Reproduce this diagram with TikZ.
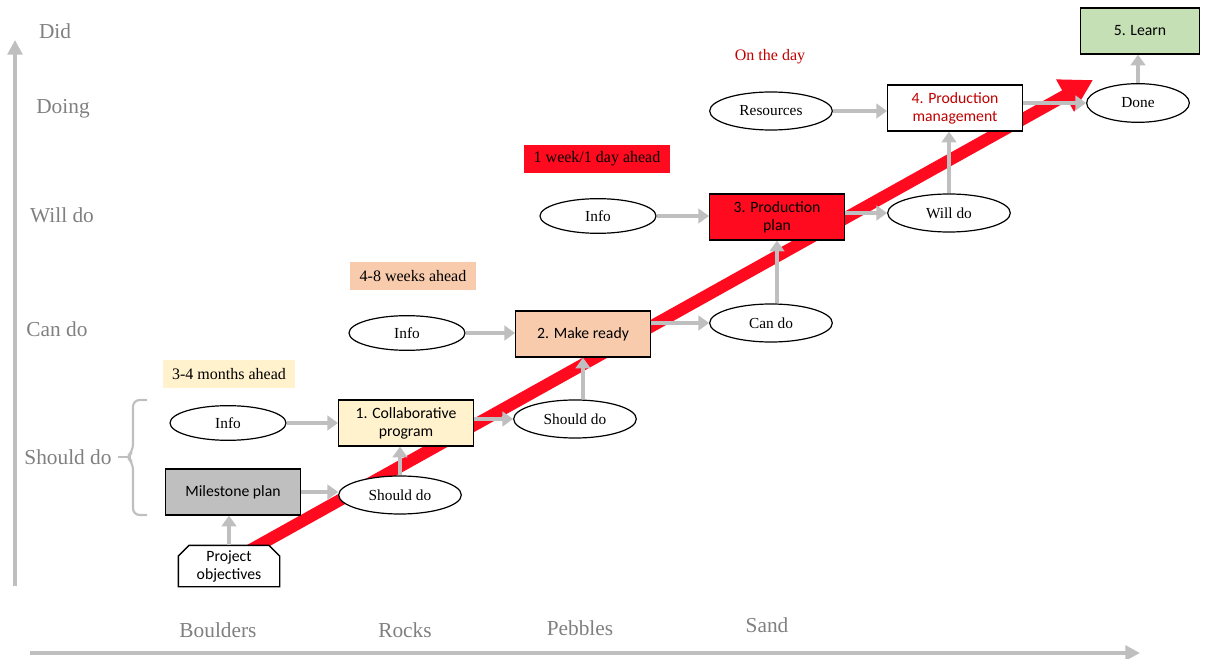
\documentclass[tikz,border=0pt]{standalone}
\usepackage{fontspec}
\setmainfont{Liberation Serif}
\newfontfamily\boxfont{Carlito}
\usetikzlibrary{arrows.meta,shapes.geometric,shapes.misc}
\definecolor{axisgray}{HTML}{808080}
\definecolor{flowgray}{HTML}{BFBFBF}
\definecolor{lastred}{HTML}{FF0A1E}
\definecolor{darkred}{HTML}{C00000}
\definecolor{paleyellow}{HTML}{FFF2CC}
\definecolor{peach}{HTML}{F8CBAD}
\definecolor{palegreen}{HTML}{C5E0B4}
\definecolor{milegray}{HTML}{BFBFBF}
\begin{document}
\begin{tikzpicture}[x=0.75pt, y=-0.75pt,
  event/.style={draw=black, fill=white, ellipse, line width=0.9pt, inner sep=0pt,
    minimum width=87pt, minimum height=26pt, font=\fontsize{11.5}{13}\selectfont},
  wide event/.style={event, minimum width=92pt, minimum height=28.5pt},
  task/.style={draw=black, fill=white, rectangle, line width=1pt, inner sep=0pt, align=center,
    minimum width=101pt, minimum height=34.5pt, font=\boxfont\fontsize{11.8}{13.5}\selectfont},
  horizon/.style={inner xsep=7pt, inner ysep=0pt, minimum height=21pt, font=\fontsize{12}{14}\selectfont},
  axislabel/.style={text=axisgray, font=\fontsize{16}{18}\selectfont},
  flow/.style={draw=flowgray, line width=3.5pt, -{Triangle[length=8pt,width=11pt]}}]
  \useasboundingbox (0,0) rectangle (1221,659);

  % axes
  \coordinate (ybot) at (15,586);
  \coordinate (ytop) at (15,40);
  \coordinate (xleft) at (30,653);
  \coordinate (xright) at (1140,653);
  \draw[flowgray, line width=3.5pt, -{Triangle[length=11pt,width=11pt]}] (ybot) -- (ytop);
  \draw[flowgray, line width=3.5pt, -{Triangle[length=11pt,width=11pt]}] (xleft) -- (xright);

  \node[axislabel] (did)    at (55,31)  {Did};
  \node[axislabel] (doing)  at (63,109) {Doing};
  \node[axislabel] (willdo) at (62,215) {Will do};
  \node[axislabel] (cando)  at (57,329) {Can do};
  \node[axislabel] (shoulddo) at (68,457) {Should do};
  % brace of the should-do band
  \draw[flowgray, line width=1.6pt, rounded corners=5pt]
    (147,400) -- (133,400) -- (133,451) -- (127,457) -- (133,463) -- (133,515) -- (147,515);
  \draw[flowgray, line width=1.6pt] (129,457) -- (118,457);

  \node[axislabel] (boulders) at (218,630) {Boulders};
  \node[axislabel] (rocks)    at (405,630) {Rocks};
  \node[axislabel] (pebbles)  at (580,628) {Pebbles};
  \node[axislabel] (sand)     at (767,625) {Sand};

  % the red trend arrow, under everything else
  \coordinate (trendstart) at (245,553);
  \coordinate (trendend) at (1093,80);
  \draw[lastred, line width=9pt, -{Triangle[length=24pt,width=26pt]}] (trendstart) -- (trendend);

  % horizons
  \node[horizon, fill=paleyellow] (months) at (229,374) {3-4 months ahead};
  \node[horizon, fill=peach] (weeks) at (413,276) {4-8 weeks ahead};
  \node[horizon, fill=lastred] (week) at (597,159) {1 week/1 day ahead};
  \node[text=darkred, font=\fontsize{12}{14}\selectfont] (onday) at (770,57) {On the day};

  % boxes
  \node[task, chamfered rectangle, chamfered rectangle corners={north west,north east},
    chamfered rectangle xsep=5pt, minimum width=76pt, minimum height=31pt] (objectives) at (229,566) {Project\\objectives};
  \node[task, fill=milegray] (milestone) at (233,492) {Milestone plan};
  \node[task, fill=paleyellow] (collab) at (406,423) {1. Collaborative\\program};
  \node[task, fill=peach] (makeready) at (583,334) {2. Make ready};
  \node[task, fill=lastred] (prodplan) at (777,217) {3. Production\\plan};
  \node[task, text=darkred] (prodman) at (955,108) {4. Production\\management};
  \node[task, fill=palegreen, minimum width=89pt] (learn) at (1140,31) {5. Learn};

  % ellipses
  \node[event] (infoA) at (228,423) {Info};
  \node[wide event] (shouldA) at (400,495) {Should do};
  \node[wide event] (shouldB) at (575,419) {Should do};
  \node[event] (infoB) at (407,333) {Info};
  \node[wide event] (canA) at (771,323) {Can do};
  \node[event] (infoC) at (598,216) {Info};
  \node[wide event] (willA) at (949,213) {Will do};
  \node[wide event] (resources) at (771,111) {Resources};
  \node[event, minimum width=77pt, minimum height=29pt] (done) at (1138,103) {Done};

  % flows
  \draw[flow] (objectives.north) -- (objectives.north |- milestone.south);
  \draw[flow] (milestone.east) -- (milestone.east -| shouldA.west);
  \draw[flow] (infoA.east) -- (infoA.east -| collab.west);
  \draw[flow] (shouldA.north) -- (shouldA.north |- collab.south);
  \draw[flow] (collab.east |- shouldB.west) -- (shouldB.west);
  \draw[flow] (makeready.south |- shouldB.north) -- (makeready.south);
  \draw[flow] (infoB.east) -- (infoB.east -| makeready.west);
  \draw[flow] (makeready.east |- canA.west) -- (canA.west);
  \draw[flow] (prodplan.south |- canA.north) -- (prodplan.south);
  \draw[flow] (infoC.east) -- (infoC.east -| prodplan.west);
  \draw[flow] (prodplan.east |- willA.west) -- (willA.west);
  \draw[flow] (willA.north) -- (willA.north |- prodman.south);
  \draw[flow] (resources.east) -- (resources.east -| prodman.west);
  \draw[flow] (prodman.east |- done.west) -- (done.west);
  \draw[flow] (done.north) -- (done.north |- learn.south);
\end{tikzpicture}
\end{document}
